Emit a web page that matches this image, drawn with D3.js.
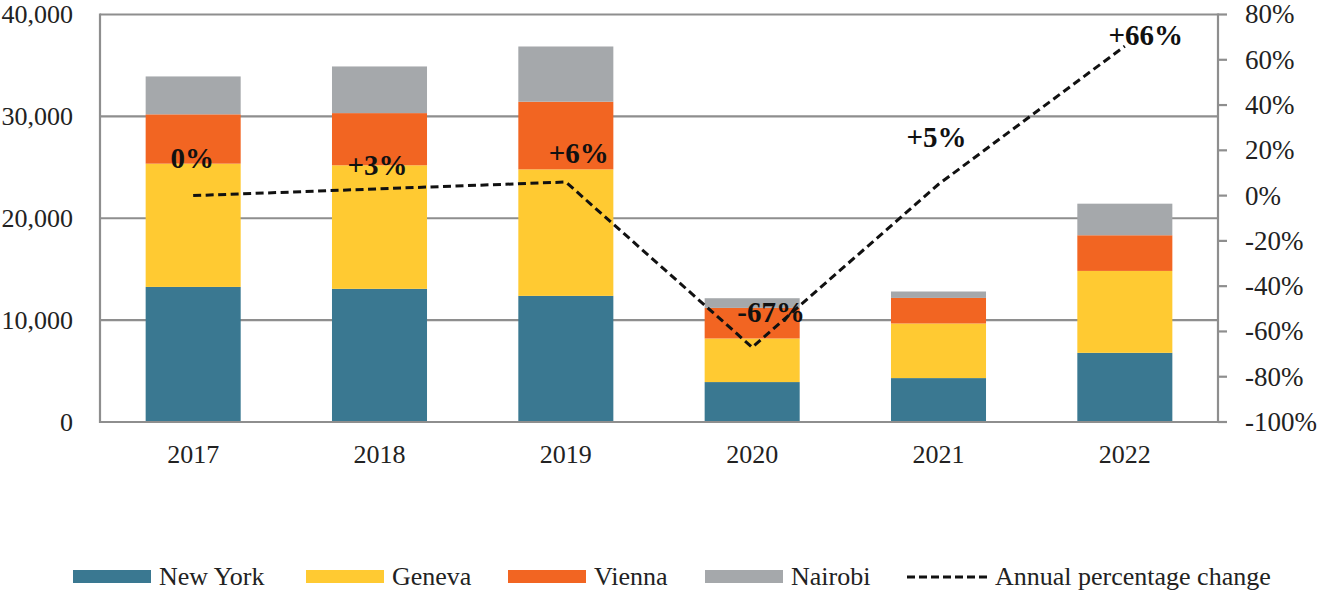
<!DOCTYPE html>
<html>
<head>
<meta charset="utf-8">
<script src="https://cdn.jsdelivr.net/npm/d3@7"></script>
<style>
  body { margin: 0; background: #fff; }
  svg { font-family: "Liberation Serif", "Times New Roman", serif; }
</style>
</head>
<body>
<div id="chart"></div>
<script>
// values
const years = ["2017", "2018", "2019", "2020", "2021", "2022"];
const newYork = [13260, 13070, 12380, 3920, 4310, 6790];
const geneva = [12100, 12130, 12420, 4280, 5360, 8040];
const vienna = [4840, 5120, 6640, 3000, 2510, 3500];
const nairobi = [3720, 4580, 5420, 950, 630, 3100];
const annualChange = [0, 3, 6, -67, 5, 66];
const changeLabels = ["0%", "+3%", "+6%", "-67%", "+5%", "+66%"];
const leftTicks = [0, 10000, 20000, 30000, 40000];
const rightTicks = [-100, -80, -60, -40, -20, 0, 20, 40, 60, 80];
const seriesNames = ["New York", "Geneva", "Vienna", "Nairobi"];
const lineName = "Annual percentage change";

// label nudges (dx, dy) from each line point
const labelDx = [-1, -2, 13, 19, -2, 21];
const labelDy = [-28, -14, -19, -25, -37, -1];

const colors = ["#3a7891", "#ffca32", "#f26522", "#a5a8ab"];
const gridColor = "#8e8e8e";

const width = 1320, height = 592;
const margin = { top: 14.5, right: 102, bottom: 170, left: 100 };
const plotBottom = height - margin.bottom;

const svg = d3.select("#chart").append("svg")
    .attr("width", width)
    .attr("height", height);

const x = d3.scaleBand()
    .domain(years)
    .range([margin.left, width - margin.right])
    .paddingInner(0.49)
    .paddingOuter(0.245);

const y = d3.scaleLinear()
    .domain([0, 40000])
    .range([plotBottom, margin.top]);

const y2 = d3.scaleLinear()
    .domain([-100, 80])
    .range([plotBottom, margin.top]);

const series = [newYork, geneva, vienna, nairobi];
const table = years.map(function(yr, i) {
    const row = { year: yr };
    seriesNames.forEach(function(name, k) { row[name] = series[k][i]; });
    return row;
});
const stacked = d3.stack().keys(seriesNames)(table);

// gridlines
svg.append("g")
    .selectAll("line")
    .data(leftTicks.filter(function(d) { return d > 0; }))
    .enter().append("line")
    .attr("x1", margin.left)
    .attr("x2", width - margin.right)
    .attr("y1", function(d) { return y(d); })
    .attr("y2", function(d) { return y(d); })
    .attr("stroke", gridColor)
    .attr("stroke-width", 2.2);

// bars
svg.append("g")
    .selectAll("g")
    .data(stacked)
    .enter().append("g")
    .attr("fill", function(d, i) { return colors[i]; })
    .selectAll("rect")
    .data(function(d) { return d; })
    .enter().append("rect")
    .attr("x", function(d) { return x(d.data.year); })
    .attr("y", function(d) { return y(d[1]); })
    .attr("height", function(d) { return y(d[0]) - y(d[1]); })
    .attr("width", x.bandwidth());

// frame: left, right, bottom
const frame = svg.append("g").attr("stroke", gridColor).attr("stroke-width", 2.2);
frame.append("line")
    .attr("x1", margin.left).attr("x2", margin.left)
    .attr("y1", y(40000) - 1).attr("y2", plotBottom + 1);
frame.append("line")
    .attr("x1", width - margin.right).attr("x2", width - margin.right)
    .attr("y1", y(40000) - 1).attr("y2", plotBottom + 1);
frame.append("line")
    .attr("x1", margin.left).attr("x2", width - margin.right)
    .attr("y1", plotBottom).attr("y2", plotBottom);

// right ticks
frame.selectAll(".rtick")
    .data(rightTicks)
    .enter().append("line")
    .attr("class", "rtick")
    .attr("x1", width - margin.right)
    .attr("x2", width - margin.right + 9)
    .attr("y1", function(d) { return y2(d); })
    .attr("y2", function(d) { return y2(d); });

// left labels
svg.append("g")
    .selectAll("text")
    .data(leftTicks)
    .enter().append("text")
    .attr("x", 73)
    .attr("y", function(d) { return y(d); })
    .attr("dy", "0.33em")
    .attr("text-anchor", "end")
    .style("font-size", "26px")
    .attr("fill", "#222")
    .text(d3.format(",d"));

// right labels
svg.append("g")
    .selectAll("text")
    .data(rightTicks)
    .enter().append("text")
    .attr("x", width - margin.right + 27)
    .attr("y", function(d) { return y2(d); })
    .attr("dy", "0.33em")
    .style("font-size", "27px")
    .attr("fill", "#222")
    .text(function(d) { return d + "%"; });

// year labels
svg.append("g")
    .selectAll("text")
    .data(years)
    .enter().append("text")
    .attr("x", function(d) { return x(d) + x.bandwidth() / 2; })
    .attr("y", 463)
    .attr("text-anchor", "middle")
    .style("font-size", "26px")
    .attr("fill", "#222")
    .text(function(d) { return d; });

// annual change line
const line = d3.line()
    .x(function(d, i) { return x(years[i]) + x.bandwidth() / 2; })
    .y(function(d) { return y2(d); });

svg.append("path")
    .datum(annualChange)
    .attr("d", line)
    .attr("fill", "none")
    .attr("stroke", "#111")
    .attr("stroke-width", 3)
    .attr("stroke-dasharray", "8,4.5");

svg.append("g")
    .selectAll("text")
    .data(annualChange)
    .enter().append("text")
    .attr("x", function(d, i) { return x(years[i]) + x.bandwidth() / 2 + labelDx[i]; })
    .attr("y", function(d, i) { return y2(d) + labelDy[i]; })
    .attr("text-anchor", "middle")
    .style("font-size", "29px")
    .style("font-weight", "bold")
    .attr("fill", "#111")
    .text(function(d, i) { return changeLabels[i]; });

// legend
const legend = svg.append("g").attr("class", "legend");
const legendX = [73, 306, 508, 705];
seriesNames.forEach(function(name, i) {
    legend.append("rect")
        .attr("x", legendX[i])
        .attr("y", 570)
        .attr("width", 78)
        .attr("height", 13)
        .attr("fill", colors[i]);
    legend.append("text")
        .attr("x", legendX[i] + 86)
        .attr("y", 585)
        .style("font-size", "26px")
        .attr("fill", "#222")
        .text(name);
});
legend.append("line")
    .attr("x1", 907).attr("x2", 988)
    .attr("y1", 577).attr("y2", 577)
    .attr("stroke", "#111")
    .attr("stroke-width", 3)
    .attr("stroke-dasharray", "8,4");
legend.append("text")
    .attr("x", 995)
    .attr("y", 585)
    .style("font-size", "26px")
    .attr("fill", "#222")
    .text(lineName);
</script>
</body>
</html>
